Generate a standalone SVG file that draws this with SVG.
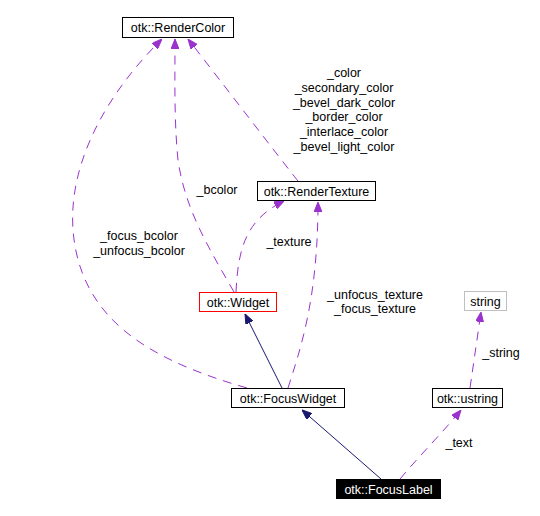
<svg xmlns="http://www.w3.org/2000/svg" width="540" height="516" viewBox="0 0 540 516">
<style>
text{font-family:"Liberation Sans",Arial,sans-serif;font-size:12.5px;fill:#000}
.lbl{text-anchor:middle}
.node rect{fill:#fff;stroke:#000;stroke-width:1}
.dep{fill:none;stroke:#9a32cd;stroke-width:1;stroke-dasharray:9,7;marker-end:url(#ap)}
.inh{fill:none;stroke:#191970;stroke-width:1;marker-end:url(#an)}
</style>
<defs>
<marker id="ap" viewBox="0 0 10 8" refX="10" refY="4" markerWidth="10" markerHeight="8" markerUnits="userSpaceOnUse" orient="auto"><path d="M0,0 L10,4 L0,8 z" fill="#9a32cd" stroke="#9a32cd"/></marker>
<marker id="an" viewBox="0 0 10 8" refX="10" refY="4" markerWidth="10" markerHeight="8" markerUnits="userSpaceOnUse" orient="auto"><path d="M0,0 L10,4 L0,8 z" fill="#191970" stroke="#191970"/></marker>
</defs>
<rect width="540" height="516" fill="#fff"/>
<g id="connectors">
<path class="dep" d="M247,388 C150,360 80,320 73,230 C68,160 110,90 162,39"/>
<path class="dep" d="M234,292 C210,250 185,210 178,160 C174,120 175,80 175,39"/>
<path class="dep" d="M298,181 C285,165 220,80 188,39"/>
<path class="dep" d="M236,292 C238,250 245,220 284,201"/>
<path class="dep" d="M288,388 C300,350 318,300 318,202"/>
<path class="inh" d="M282,388 L245,314"/>
<path class="inh" d="M381,479 L302,410"/>
<path class="dep" d="M400,479 C420,455 445,430 461,410"/>
<path class="dep" d="M470,388 L481,312"/>
<text class="lbl" x="344" y="77">_color</text>
<text class="lbl" x="344" y="92">_secondary_color</text>
<text class="lbl" x="344" y="107">_bevel_dark_color</text>
<text class="lbl" x="344" y="121">_border_color</text>
<text class="lbl" x="344" y="136">_interlace_color</text>
<text class="lbl" x="344" y="151">_bevel_light_color</text>
<text class="lbl" x="217" y="194">_bcolor</text>
<text class="lbl" x="139" y="240">_focus_bcolor</text>
<text class="lbl" x="139" y="255">_unfocus_bcolor</text>
<text class="lbl" x="289" y="246">_texture</text>
<text class="lbl" x="375" y="299">_unfocus_texture</text>
<text class="lbl" x="375" y="313">_focus_texture</text>
<text class="lbl" x="501" y="357">_string</text>
<text class="lbl" x="459" y="447">_text</text>
</g>
<g id="RenderColor" class="node"><rect x="122.5" y="17.5" width="111" height="20"/><text class="lbl" x="178" y="32">otk::RenderColor</text></g>
<g id="RenderTexture" class="node"><rect x="257.5" y="181.5" width="118" height="19"/><text class="lbl" x="316.5" y="195.5">otk::RenderTexture</text></g>
<g id="Widget" class="node"><rect x="199.5" y="292.5" width="77" height="19" style="stroke:#f00"/><text class="lbl" x="238" y="306.5">otk::Widget</text></g>
<g id="string" class="node"><rect x="464.5" y="291.5" width="42" height="19" style="stroke:#bfbfbf"/><text class="lbl" x="485.5" y="305.5">string</text></g>
<g id="FocusWidget" class="node"><rect x="231.5" y="388.5" width="113" height="19"/><text class="lbl" x="288" y="402.5">otk::FocusWidget</text></g>
<g id="ustring" class="node"><rect x="432.5" y="388.5" width="70" height="19"/><text class="lbl" x="467.5" y="402.5">otk::ustring</text></g>
<g id="FocusLabel" class="node"><rect x="336.5" y="479.5" width="104" height="19" style="fill:#000"/><text class="lbl" x="388.5" y="493.5" style="fill:#fff">otk::FocusLabel</text></g>
</svg>
